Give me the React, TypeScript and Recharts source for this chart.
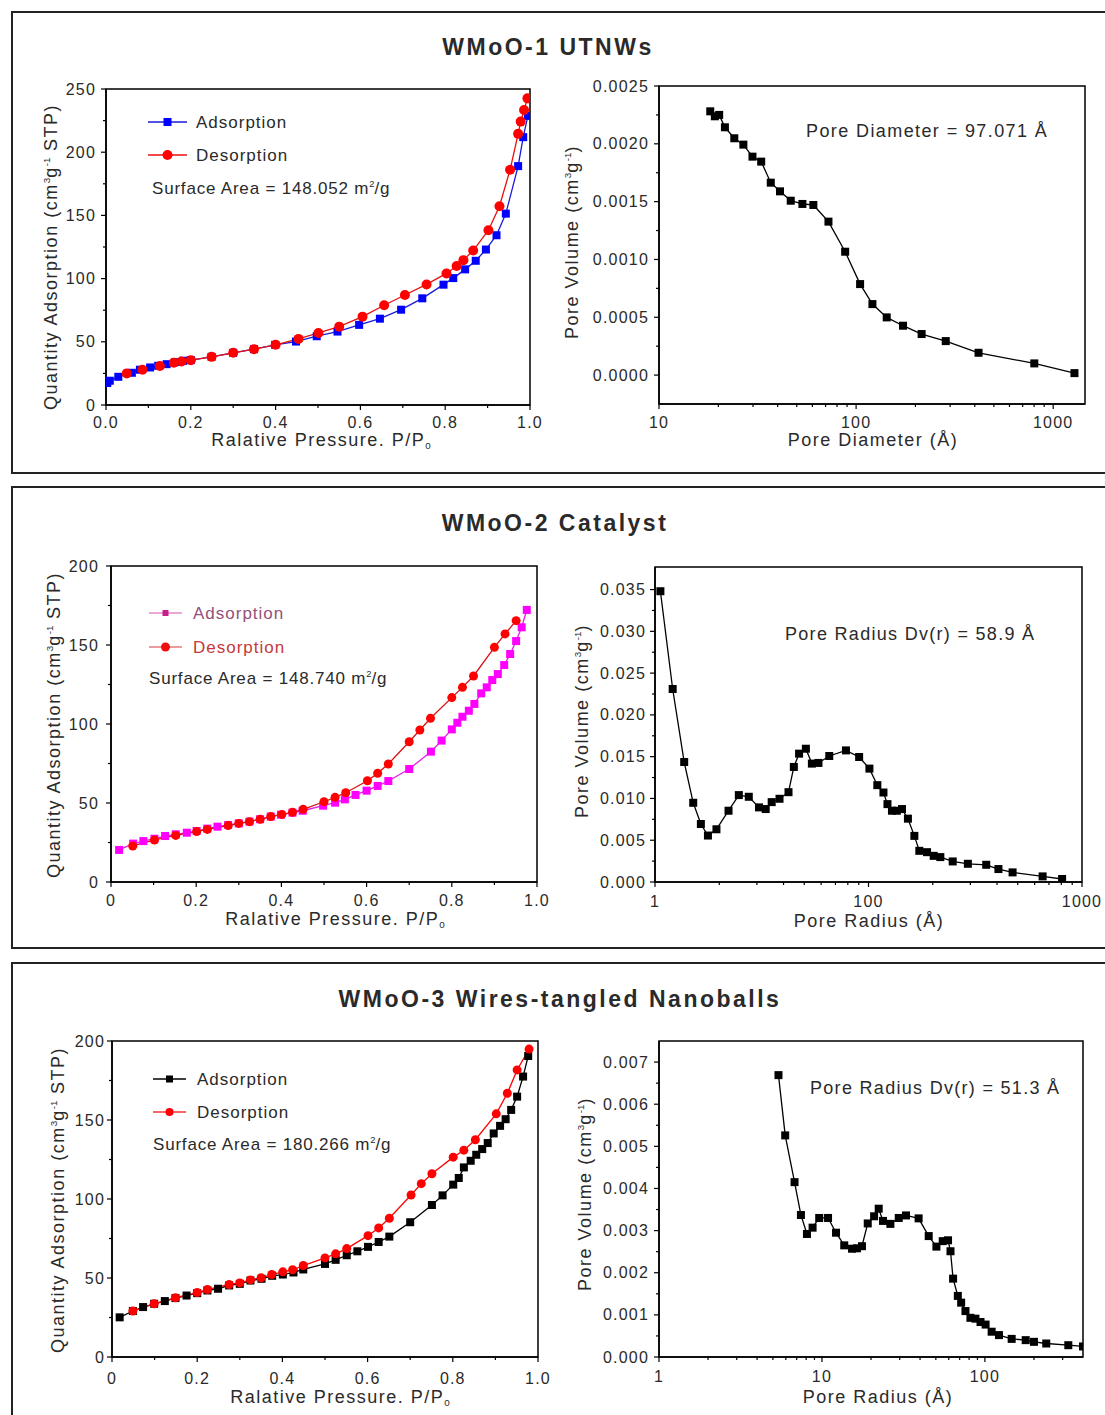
import React from 'react';
import { LineChart, Line, XAxis, YAxis, ReferenceArea } from 'recharts';

const FONT = '"Liberation Sans", Arial, Helvetica, sans-serif';
const INK = '#2a2a2a';

// ================= WMoO-1 UTNWs =================
const w1AdsP = [0.003, 0.009, 0.029, 0.061, 0.080, 0.104, 0.123, 0.143, 0.163, 0.182, 0.200, 0.249, 0.300, 0.349, 0.399, 0.448, 0.497, 0.546, 0.597, 0.646, 0.696, 0.746, 0.796, 0.819, 0.847, 0.872, 0.896, 0.921, 0.943, 0.972, 0.984, 0.995];
const w1AdsQ = [17.4, 19.2, 22.3, 25.5, 27.9, 29.7, 31.0, 32.3, 33.9, 35.0, 35.5, 38.1, 41.3, 44.2, 47.6, 50.2, 54.4, 58.1, 63.4, 68.3, 75.4, 84.4, 95.2, 100.4, 107.3, 114.1, 123.0, 134.3, 151.4, 189.0, 211.9, 228.7];
const w1DesP = [0.994, 0.986, 0.978, 0.972, 0.953, 0.928, 0.902, 0.866, 0.843, 0.827, 0.803, 0.756, 0.705, 0.656, 0.605, 0.550, 0.501, 0.454, 0.400, 0.349, 0.300, 0.249, 0.200, 0.178, 0.160, 0.127, 0.086, 0.049];
const w1DesQ = [242.6, 233.4, 224.2, 214.5, 186.1, 157.2, 138.3, 122.2, 114.6, 109.9, 104.1, 95.4, 87.0, 78.9, 69.9, 62.0, 57.0, 52.3, 47.6, 44.2, 41.3, 38.1, 35.5, 34.4, 33.4, 30.8, 27.9, 25.0];
const w1PoreD = [18.2, 19.2, 20.2, 21.6, 24.1, 26.8, 29.8, 33.0, 36.9, 41.1, 46.6, 53.4, 60.7, 72.4, 88.0, 104.8, 121, 143, 173, 215, 285, 418, 802, 1282];
const w1PoreV = [0.002281, 0.002238, 0.002250, 0.002143, 0.002048, 0.001993, 0.001889, 0.001846, 0.001664, 0.001589, 0.001508, 0.001480, 0.001471, 0.001327, 0.001067, 0.000787, 0.000614, 0.000499, 0.000427, 0.000355, 0.000294, 0.000193, 0.000101, 0.000017];

// ================= WMoO-2 Catalyst =================
const w2AdsP = [0.019, 0.052, 0.076, 0.102, 0.127, 0.152, 0.178, 0.201, 0.226, 0.250, 0.275, 0.300, 0.325, 0.350, 0.375, 0.399, 0.426, 0.450, 0.498, 0.526, 0.549, 0.574, 0.600, 0.626, 0.651, 0.700, 0.751, 0.776, 0.800, 0.813, 0.825, 0.840, 0.853, 0.869, 0.882, 0.895, 0.908, 0.923, 0.937, 0.951, 0.964, 0.976];
const w2AdsQ = [20.3, 24.3, 25.9, 27.4, 29.1, 30.2, 31.2, 32.3, 33.8, 35.0, 36.1, 37.1, 38.2, 39.7, 41.4, 42.6, 43.9, 45.1, 48.3, 50.2, 52.3, 55.1, 57.8, 60.8, 63.9, 71.5, 82.5, 89.5, 96.6, 100.8, 104.6, 108.4, 112.7, 119.4, 123.2, 127.8, 131.6, 137.3, 144.3, 152.5, 161.2, 172.2];
const w2DesP = [0.951, 0.925, 0.900, 0.851, 0.825, 0.800, 0.750, 0.725, 0.700, 0.651, 0.626, 0.602, 0.551, 0.526, 0.500, 0.451, 0.426, 0.401, 0.375, 0.350, 0.325, 0.300, 0.275, 0.226, 0.201, 0.152, 0.102, 0.051];
const w2DesQ = [165.4, 157.0, 148.5, 130.4, 123.2, 116.7, 103.6, 96.2, 88.8, 74.7, 68.8, 64.1, 56.5, 53.6, 50.8, 46.0, 44.1, 42.8, 41.4, 39.7, 38.2, 37.1, 35.7, 33.3, 31.9, 29.5, 26.6, 22.8];
const w2PoreR = [10.6, 12.1, 13.7, 15.1, 16.4, 17.7, 19.4, 22.1, 24.7, 27.5, 30.7, 33.0, 35.2, 38.3, 42.2, 44.7, 47.3, 50.9, 54.3, 58.3, 65.5, 78.4, 90.4, 101, 110, 117.5, 122.7, 128.8, 135.8, 143.5, 153, 164, 173, 188, 202, 217, 248, 292, 356, 406, 473, 654, 807];
const w2PoreV = [0.0348, 0.0231, 0.01436, 0.00948, 0.00694, 0.00556, 0.00631, 0.00853, 0.0104, 0.0102, 0.00893, 0.00873, 0.00956, 0.00996, 0.01075, 0.01377, 0.01536, 0.01595, 0.01417, 0.01425, 0.01508, 0.01575, 0.01496, 0.01357, 0.01159, 0.01071, 0.00932, 0.00853, 0.00853, 0.00873, 0.00758, 0.00552, 0.00373, 0.00357, 0.00313, 0.00298, 0.00246, 0.00218, 0.00206, 0.00155, 0.00115, 0.00067, 0.00036];

// ================= WMoO-3 Wires-tangled Nanoballs =================
const w3AdsP = [0.018, 0.049, 0.073, 0.099, 0.124, 0.149, 0.175, 0.200, 0.224, 0.249, 0.275, 0.300, 0.325, 0.351, 0.376, 0.401, 0.426, 0.449, 0.500, 0.525, 0.551, 0.576, 0.601, 0.626, 0.651, 0.700, 0.751, 0.776, 0.801, 0.814, 0.826, 0.842, 0.855, 0.869, 0.882, 0.896, 0.911, 0.924, 0.937, 0.951, 0.965, 0.977];
const w3AdsQ = [25.1, 29.1, 31.6, 33.7, 35.4, 37.3, 38.9, 40.4, 42.1, 43.2, 45.3, 46.3, 48.4, 49.5, 51.4, 52.2, 53.5, 55.4, 58.9, 61.5, 64.4, 66.9, 69.7, 72.8, 76.2, 85.3, 96.2, 102.3, 109.1, 113.3, 120.0, 124.2, 128.0, 131.6, 135.4, 141.5, 146.3, 150.5, 156.4, 164.8, 177.5, 190.5];
const w3DesP = [0.979, 0.951, 0.928, 0.902, 0.853, 0.826, 0.801, 0.751, 0.726, 0.702, 0.651, 0.626, 0.601, 0.551, 0.525, 0.500, 0.449, 0.424, 0.401, 0.375, 0.350, 0.325, 0.300, 0.275, 0.224, 0.200, 0.149, 0.099, 0.049];
const w3DesQ = [194.9, 181.7, 166.9, 153.9, 137.5, 130.9, 126.5, 116.0, 109.7, 102.5, 87.8, 81.7, 76.8, 68.6, 65.3, 62.7, 57.9, 55.2, 53.9, 52.2, 50.1, 48.8, 46.9, 45.9, 42.7, 40.8, 37.5, 33.7, 29.1];
const w3PoreR = [5.41, 5.95, 6.79, 7.43, 8.09, 8.76, 9.62, 10.9, 12.2, 13.7, 15.3, 16.4, 17.6, 19.1, 20.9, 22.3, 23.7, 26.3, 29.6, 32.8, 39.2, 45.2, 50.4, 55.1, 59.4, 61.5, 63.8, 68.2, 71.5, 76.0, 81.5, 87.5, 94, 101, 110, 122, 146, 178, 200, 238, 325, 400];
const w3PoreV = [0.00669, 0.00526, 0.00415, 0.00337, 0.00292, 0.00307, 0.00330, 0.00330, 0.00295, 0.00265, 0.00257, 0.00258, 0.00263, 0.00317, 0.00334, 0.00352, 0.00323, 0.00316, 0.00330, 0.00336, 0.00329, 0.00287, 0.00262, 0.00275, 0.00277, 0.00251, 0.00186, 0.00145, 0.00129, 0.00109, 0.00093, 0.00091, 0.00083, 0.00077, 0.00060, 0.00052, 0.00043, 0.00040, 0.00036, 0.00032, 0.00028, 0.00025];

// ================= Tick values / labels =================
const isoXMajor = [0, 0.2, 0.4, 0.6, 0.8, 1.0];
const isoXMinor = [0.1, 0.3, 0.5, 0.7, 0.9];
const iso1XLabels = ['0.0', '0.2', '0.4', '0.6', '0.8', '1.0'];
const iso23XLabels = ['0', '0.2', '0.4', '0.6', '0.8', '1.0'];
const iso1YMajor = [0, 50, 100, 150, 200, 250];
const iso1YMinor = [25, 75, 125, 175, 225];
const iso23YMajor = [0, 50, 100, 150, 200];
const iso23YMinor = [25, 75, 125, 175];

const logMajor10to1000 = [10, 100, 1000];
const logMinor10to1000 = [20, 30, 40, 50, 60, 70, 80, 90, 200, 300, 400, 500, 600, 700, 800, 900];
const psd1XLabels = ['10', '100', '1000'];
const psd2XLabels = ['1', '100', '1000'];
const psd3XMajor = [1, 10, 100];
const psd3XMinor = [2, 3, 4, 5, 6, 7, 8, 9, 20, 30, 40, 50, 60, 70, 80, 90, 200, 300];
const psd3XLabels = ['1', '10', '100'];

const psd1YMajor = [0, 0.0005, 0.001, 0.0015, 0.002, 0.0025];
const psd1YLabels = ['0.0000', '0.0005', '0.0010', '0.0015', '0.0020', '0.0025'];
const psd1YMinor = [0.00025, 0.00075, 0.00125, 0.00175, 0.00225];
const psd2YMajor = [0, 0.005, 0.01, 0.015, 0.02, 0.025, 0.03, 0.035];
const psd2YLabels = ['0.000', '0.005', '0.010', '0.015', '0.020', '0.025', '0.030', '0.035'];
const psd2YMinor = [0.0025, 0.0075, 0.0125, 0.0175, 0.0225, 0.0275, 0.0325];
const psd3YMajor = [0, 0.001, 0.002, 0.003, 0.004, 0.005, 0.006, 0.007];
const psd3YLabels = ['0.000', '0.001', '0.002', '0.003', '0.004', '0.005', '0.006', '0.007'];
const psd3YMinor = [0.0005, 0.0015, 0.0025, 0.0035, 0.0045, 0.0055, 0.0065];

// ================= Helpers =================
type Pt = { x: number; y: number };
const zip = (xs: number[], ys: number[]): Pt[] => xs.map((x, i) => ({ x, y: ys[i] }));

type SeriesDef = { data: Pt[]; line: string; fill: string; shape: 'square' | 'circle'; size: number };
type PlotDef = {
  rect: [number, number, number, number];
  xDomain: [number, number];
  xLog?: boolean;
  xMajor: number[];
  xLabels: string[];
  xMinor: number[];
  yDomain: [number, number];
  yMajor: number[];
  yLabels: string[];
  yMinor: number[];
  xOff: number;
  yGap: number;
  series: SeriesDef[];
};

const near = (a: number, b: number) => Math.abs(a - b) <= 1e-9 + 1e-7 * Math.abs(b);

const makeDot = (shape: 'square' | 'circle', size: number, fill: string) => (p: any) => {
  const { cx, cy, index } = p;
  if (cx == null || cy == null || isNaN(cx) || isNaN(cy)) return <g key={`d${index}`} />;
  if (shape === 'square')
    return <rect key={`d${index}`} x={cx - size / 2} y={cy - size / 2} width={size} height={size} fill={fill} />;
  return <circle key={`d${index}`} cx={cx} cy={cy} r={size / 2} fill={fill} />;
};

const tickText: React.CSSProperties = { fontFamily: FONT, fontSize: 16, letterSpacing: 1.2, fill: INK };

function Plot({ def }: { def: PlotDef }) {
  const [x0, y0, x1, y1] = def.rect;
  const L = 90, T = 12, R = 26, B = 40;
  const w = x1 - x0 + L + R;
  const h = y1 - y0 + T + B;
  const xTicks = [...def.xMajor, ...def.xMinor].sort((a, b) => a - b);
  const yTicks = [...def.yMajor, ...def.yMinor].sort((a, b) => a - b);
  const lab = (majors: number[], labels: string[], v: number) => {
    const i = majors.findIndex((m) => near(v, m));
    return i >= 0 ? labels[i] : null;
  };
  const xTick = (p: any) => {
    const s = lab(def.xMajor, def.xLabels, p.payload.value);
    return (
      <g>
        <line x1={p.x} y1={p.y} x2={p.x} y2={p.y + (s !== null ? 5 : 3)} stroke="#000" strokeWidth={1.2} />
        {s !== null && (
          <text x={p.x} y={p.y + def.xOff} dy="0.35em" textAnchor="middle" style={tickText}>
            {s}
          </text>
        )}
      </g>
    );
  };
  const yTick = (p: any) => {
    const s = lab(def.yMajor, def.yLabels, p.payload.value);
    return (
      <g>
        <line x1={p.x} y1={p.y} x2={p.x - (s !== null ? 5 : 3)} y2={p.y} stroke="#000" strokeWidth={1.2} />
        {s !== null && (
          <text x={p.x - def.yGap} y={p.y} dy="0.35em" textAnchor="end" style={tickText}>
            {s}
          </text>
        )}
      </g>
    );
  };
  return (
    <div style={{ position: 'absolute', left: x0 - L, top: y0 - T }}>
      <LineChart width={w} height={h} margin={{ top: T, right: R, left: 0, bottom: 0 }}>
        <XAxis
          xAxisId="x"
          type="number"
          dataKey="x"
          domain={def.xDomain}
          scale={def.xLog ? 'log' : 'linear'}
          allowDataOverflow
          ticks={xTicks}
          interval={0}
          tickSize={0}
          tickMargin={0}
          tickLine={false}
          height={B}
          axisLine={{ stroke: '#000', strokeWidth: 1.5 }}
          tick={xTick}
        />
        <YAxis
          yAxisId="y"
          type="number"
          dataKey="y"
          domain={def.yDomain}
          allowDataOverflow
          ticks={yTicks}
          interval={0}
          tickSize={0}
          tickMargin={0}
          tickLine={false}
          width={L}
          axisLine={{ stroke: '#000', strokeWidth: 1.5 }}
          tick={yTick}
        />
        <ReferenceArea
          xAxisId="x"
          yAxisId="y"
          x1={def.xDomain[0]}
          x2={def.xDomain[1]}
          y1={def.yDomain[0]}
          y2={def.yDomain[1]}
          fill="none"
          fillOpacity={0}
          stroke="#000"
          strokeWidth={1.5}
          ifOverflow="visible"
        />
        {def.series.map((s, i) => (
          <Line
            key={i}
            xAxisId="x"
            yAxisId="y"
            data={s.data}
            dataKey="y"
            type="linear"
            stroke={s.line}
            strokeWidth={1.3}
            dot={makeDot(s.shape, s.size, s.fill)}
            activeDot={false}
            isAnimationActive={false}
            legendType="none"
          />
        ))}
      </LineChart>
    </div>
  );
}

function Label({
  x, y, size = 18, ls = 1.5, anchor = 'middle', rotate = false, bold = false, color = INK, children,
}: {
  x: number; y: number; size?: number; ls?: number; anchor?: 'middle' | 'start'; rotate?: boolean; bold?: boolean; color?: string; children: React.ReactNode;
}) {
  const tf = (anchor === 'middle' ? 'translate(-50%,-50%)' : 'translate(0,-50%)') + (rotate ? ' rotate(-90deg)' : '');
  return (
    <div
      style={{
        position: 'absolute', left: x, top: y, transform: tf, fontFamily: FONT, fontSize: size,
        letterSpacing: ls, fontWeight: bold ? 700 : 400, color, lineHeight: 1, whiteSpace: 'nowrap',
      }}
    >
      {children}
    </div>
  );
}

const Sup = ({ children }: { children: React.ReactNode }) => (
  <span style={{ fontSize: '0.55em', position: 'relative', top: '-0.75em', letterSpacing: 0 }}>{children}</span>
);
const Sub = ({ children }: { children: React.ReactNode }) => (
  <span style={{ fontSize: '0.55em', position: 'relative', top: '0.35em', letterSpacing: 0 }}>{children}</span>
);

function LegendMark({ x, y, len, line, fill, shape, size }: { x: number; y: number; len: number; line: string; fill: string; shape: 'square' | 'circle'; size: number }) {
  return (
    <svg width={len} height={20} style={{ position: 'absolute', left: x, top: y - 10 }}>
      <line x1={0} y1={10} x2={len} y2={10} stroke={line} strokeWidth={1.3} />
      {shape === 'square' ? (
        <rect x={len / 2 - size / 2} y={10 - size / 2} width={size} height={size} fill={fill} />
      ) : (
        <circle cx={len / 2} cy={10} r={size / 2} fill={fill} />
      )}
    </svg>
  );
}

const Panel = ({ top, height }: { top: number; height: number }) => (
  <div style={{ position: 'absolute', left: 11, top, width: 1200, height, border: '2px solid #222', boxSizing: 'border-box' }} />
);

// ================= Plot definitions =================
const plot1L: PlotDef = {
  rect: [106, 89, 530, 405], xDomain: [0, 1], xMajor: isoXMajor, xLabels: iso1XLabels, xMinor: isoXMinor,
  yDomain: [0, 250], yMajor: iso1YMajor, yLabels: iso1YMajor.map(String), yMinor: iso1YMinor, xOff: 17, yGap: 10,
  series: [
    { data: zip(w1AdsP, w1AdsQ), line: '#1a1ad8', fill: '#0000ff', shape: 'square', size: 8 },
    { data: zip(w1DesP, w1DesQ), line: '#e81010', fill: '#ff0000', shape: 'circle', size: 10 },
  ],
};
const plot1R: PlotDef = {
  rect: [659, 86, 1085, 404], xDomain: [10, 1450], xLog: true, xMajor: logMajor10to1000, xLabels: psd1XLabels, xMinor: logMinor10to1000,
  yDomain: [-0.00025, 0.0025], yMajor: psd1YMajor, yLabels: psd1YLabels, yMinor: psd1YMinor, xOff: 18, yGap: 10,
  series: [{ data: zip(w1PoreD, w1PoreV), line: '#000', fill: '#000', shape: 'square', size: 8 }],
};
const plot2L: PlotDef = {
  rect: [111, 566, 537, 882], xDomain: [0, 1], xMajor: isoXMajor, xLabels: iso23XLabels, xMinor: isoXMinor,
  yDomain: [0, 200], yMajor: iso23YMajor, yLabels: iso23YMajor.map(String), yMinor: iso23YMinor, xOff: 18, yGap: 12,
  series: [
    { data: zip(w2AdsP, w2AdsQ), line: '#e020e0', fill: '#ff00ff', shape: 'square', size: 8 },
    { data: zip(w2DesP, w2DesQ), line: '#d81010', fill: '#ff0000', shape: 'circle', size: 9 },
  ],
};
const plot2R: PlotDef = {
  rect: [655, 567, 1082, 882], xDomain: [10, 1000], xLog: true, xMajor: logMajor10to1000, xLabels: psd2XLabels, xMinor: logMinor10to1000,
  yDomain: [0, 0.0377], yMajor: psd2YMajor, yLabels: psd2YLabels, yMinor: psd2YMinor, xOff: 19, yGap: 9,
  series: [{ data: zip(w2PoreR, w2PoreV), line: '#000', fill: '#000', shape: 'square', size: 8 }],
};
const plot3L: PlotDef = {
  rect: [112, 1041, 538, 1357], xDomain: [0, 1], xMajor: isoXMajor, xLabels: iso23XLabels, xMinor: isoXMinor,
  yDomain: [0, 200], yMajor: iso23YMajor, yLabels: iso23YMajor.map(String), yMinor: iso23YMinor, xOff: 21, yGap: 7,
  series: [
    { data: zip(w3AdsP, w3AdsQ), line: '#000', fill: '#000', shape: 'square', size: 8 },
    { data: zip(w3DesP, w3DesQ), line: '#ff0000', fill: '#ff0000', shape: 'circle', size: 9 },
  ],
};
const plot3R: PlotDef = {
  rect: [659, 1041, 1083, 1357], xDomain: [1, 400], xLog: true, xMajor: psd3XMajor, xLabels: psd3XLabels, xMinor: psd3XMinor,
  yDomain: [0, 0.0075], yMajor: psd3YMajor, yLabels: psd3YLabels, yMinor: psd3YMinor, xOff: 19, yGap: 10,
  series: [{ data: zip(w3PoreR, w3PoreV), line: '#000', fill: '#000', shape: 'square', size: 8 }],
};

const qtyLabel = (
  <>
    Quantity Adsorption (cm<Sup>3</Sup>g<Sup>-1</Sup> STP)
  </>
);
const pvLabel = (
  <>
    Pore Volume (cm<Sup>3</Sup>g<Sup>-1</Sup>)
  </>
);
const relLabel = (
  <>
    Ralative Pressure. P/P<Sub>0</Sub>
  </>
);

export default function App() {
  return (
    <div style={{ position: 'absolute', left: 0, top: 0, width: 1105, height: 1415, overflow: 'hidden', background: '#fff' }}>
      <Panel top={11} height={463} />
      <Panel top={486} height={463} />
      <Panel top={962} height={600} />

      <Label x={548} y={47} size={23} ls={2.5} bold>WMoO-1 UTNWs</Label>
      <Label x={555} y={523} size={23} ls={2.5} bold>WMoO-2 Catalyst</Label>
      <Label x={560} y={999} size={23} ls={2.5} bold>WMoO-3 Wires-tangled Nanoballs</Label>

      <Plot def={plot1L} />
      <Plot def={plot1R} />
      <Plot def={plot2L} />
      <Plot def={plot2R} />
      <Plot def={plot3L} />
      <Plot def={plot3R} />

      {/* Panel 1 */}
      <Label x={51} y={257} rotate>{qtyLabel}</Label>
      <Label x={321} y={440}>{relLabel}</Label>
      <Label x={572} y={242} rotate>{pvLabel}</Label>
      <Label x={873} y={440}>Pore Diameter (Å)</Label>
      <LegendMark x={148} y={122} len={39} line="#1a1ad8" fill="#0000ff" shape="square" size={8} />
      <LegendMark x={148} y={155} len={39} line="#e81010" fill="#ff0000" shape="circle" size={10} />
      <Label x={196} y={122} size={17} ls={1} anchor="start">Adsorption</Label>
      <Label x={196} y={155} size={17} ls={1} anchor="start">Desorption</Label>
      <Label x={152} y={188} size={17} ls={0.8} anchor="start">
        Surface Area = 148.052 m<Sup>2</Sup>/g
      </Label>
      <Label x={806} y={131} size={18} ls={1.4} anchor="start">Pore Diameter = 97.071 Å</Label>

      {/* Panel 2 */}
      <Label x={54} y={725} rotate>{qtyLabel}</Label>
      <Label x={335} y={919}>{relLabel}</Label>
      <Label x={582} y={721} rotate>{pvLabel}</Label>
      <Label x={869} y={921}>Pore Radius (Å)</Label>
      <LegendMark x={149} y={613} len={33} line="#e08cc8" fill="#c8208a" shape="square" size={6} />
      <LegendMark x={149} y={647} len={33} line="#e87878" fill="#ee1010" shape="circle" size={9} />
      <Label x={193} y={613} size={17} ls={1} anchor="start" color="#94507a">Adsorption</Label>
      <Label x={193} y={647} size={17} ls={1} anchor="start" color="#c43838">Desorption</Label>
      <Label x={149} y={678} size={17} ls={0.8} anchor="start">
        Surface Area = 148.740 m<Sup>2</Sup>/g
      </Label>
      <Label x={785} y={634} size={18} ls={1.3} anchor="start">Pore Radius Dv(r) = 58.9 Å</Label>

      {/* Panel 3 */}
      <Label x={58} y={1200} rotate>{qtyLabel}</Label>
      <Label x={340} y={1397}>{relLabel}</Label>
      <Label x={585} y={1194} rotate>{pvLabel}</Label>
      <Label x={878} y={1397}>Pore Radius (Å)</Label>
      <LegendMark x={153} y={1079} len={33} line="#000" fill="#000" shape="square" size={7} />
      <LegendMark x={153} y={1112} len={33} line="#ff3030" fill="#ff0000" shape="circle" size={8} />
      <Label x={197} y={1079} size={17} ls={1} anchor="start">Adsorption</Label>
      <Label x={197} y={1112} size={17} ls={1} anchor="start">Desorption</Label>
      <Label x={153} y={1144} size={17} ls={0.8} anchor="start">
        Surface Area = 180.266 m<Sup>2</Sup>/g
      </Label>
      <Label x={810} y={1088} size={18} ls={1.3} anchor="start">Pore Radius Dv(r) = 51.3 Å</Label>
    </div>
  );
}
